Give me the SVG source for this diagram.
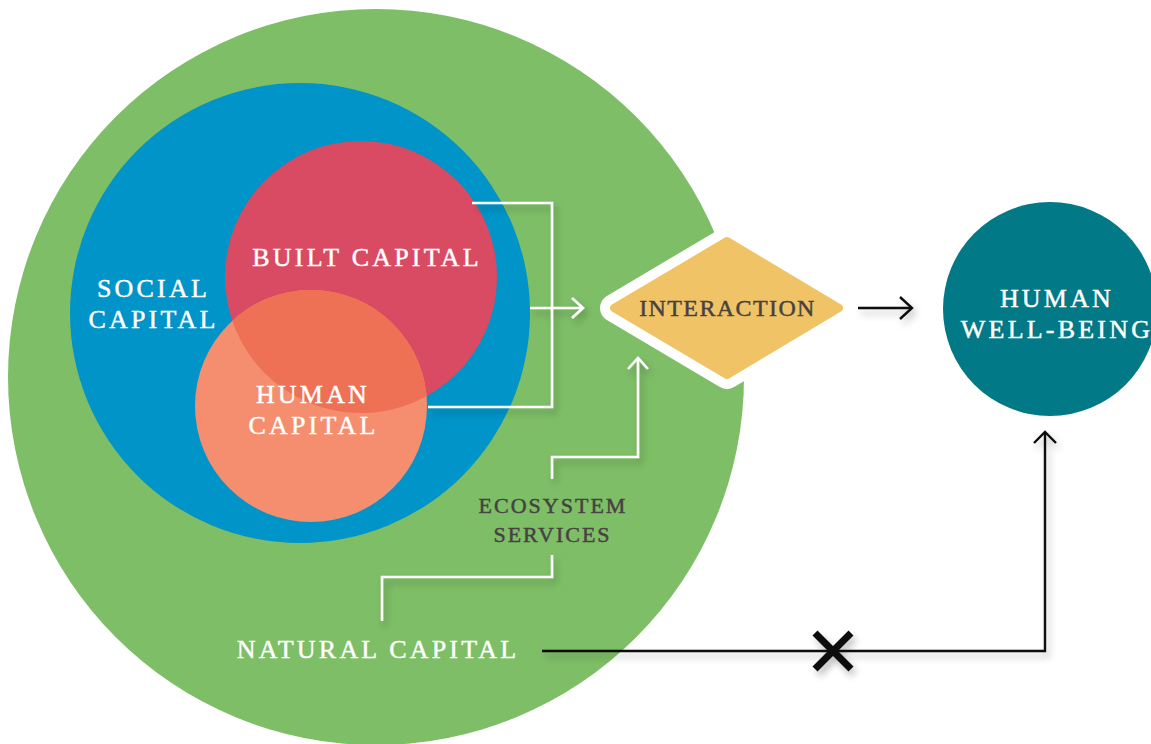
<svg xmlns="http://www.w3.org/2000/svg" width="1151" height="744" viewBox="0 0 1151 744">
<defs>
<filter id="sh" x="-20%" y="-20%" width="140%" height="140%">
<feDropShadow dx="3" dy="5" stdDeviation="3.5" flood-color="#000" flood-opacity="0.25"/>
</filter>
<clipPath id="clipBuilt"><circle cx="361" cy="277" r="136"/></clipPath>
</defs>
<style>
.lbl{font-family:"Liberation Serif","Times New Roman",serif;font-size:26px;fill:#fff;stroke:#fff;stroke-width:0.45;letter-spacing:3.2px;text-anchor:middle}
.dark{fill:#474142;stroke:#474142}
.wl{fill:none;stroke:#fff;stroke-width:2.6;stroke-linecap:butt;stroke-linejoin:miter}
.bl{fill:none;stroke:#111;stroke-width:2.4;stroke-linecap:butt;stroke-linejoin:miter}
</style>
<rect width="1151" height="744" fill="#fff"/>
<g id="natural-capital">
<circle cx="376" cy="377" r="368" fill="#7dbe66"/>
<text class="lbl" x="378" y="658">NATURAL CAPITAL</text>
</g>
<g id="social-capital">
<circle cx="300" cy="313" r="230" fill="#0094c8"/>
<text class="lbl" x="153.5" y="297">SOCIAL</text>
<text class="lbl" x="153.5" y="328">CAPITAL</text>
</g>
<g id="built-capital">
<circle cx="361" cy="277" r="136" fill="#d94b63"/>
<text class="lbl" x="367" y="266">BUILT CAPITAL</text>
</g>
<g id="human-capital">
<circle cx="311" cy="406" r="116" fill="#f48e6e"/>
<circle cx="311" cy="406" r="116" fill="#ee7055" clip-path="url(#clipBuilt)"/>
<text class="lbl" x="313" y="403">HUMAN</text>
<text class="lbl" x="313.5" y="434">CAPITAL</text>
</g>
<g id="interaction">
<polygon points="614,308 727,241 839,308 727,375" fill="#fff" stroke="#fff" stroke-width="28" stroke-linejoin="round"/>
<polygon points="614,308 727,241 839,308 727,375" fill="#f0c466" stroke="#f0c466" stroke-width="8" stroke-linejoin="round"/>
<text class="lbl dark" x="727.5" y="316" style="font-size:24px;letter-spacing:1.4px">INTERACTION</text>
</g>
<g id="ecosystem-services">
<text class="lbl dark" x="553" y="513" style="font-size:22px;letter-spacing:2px">ECOSYSTEM</text>
<text class="lbl dark" x="552.5" y="542" style="font-size:22px;letter-spacing:2px">SERVICES</text>
</g>
<g id="human-well-being">
<circle cx="1050" cy="309" r="107" fill="#017986"/>
<text class="lbl" x="1057" y="307">HUMAN</text>
<text class="lbl" x="1057" y="338">WELL-BEING</text>
</g>
<g id="connectors" filter="url(#sh)">
<polyline class="wl" points="472,203 552,203 552,407 428,407"/>
<line class="wl" x1="530" y1="308" x2="582" y2="308"/>
<polyline class="wl" points="572,298 583,308 572,318"/>
<polyline class="wl" points="552,479 552,457 638,457 638,359"/>
<polyline class="wl" points="628,369 638,358 648,369"/>
<polyline class="wl" points="552,555 552,577 382,577 382,621"/>
<line class="bl" x1="858" y1="308" x2="911" y2="308"/>
<polyline class="bl" points="900,297 912,308 900,319"/>
<polyline class="bl" points="542,651 1045,651 1045,433"/>
<polyline class="bl" points="1034,443 1045,432 1056,443"/>
<g stroke="#111" stroke-width="7" stroke-linecap="butt">
<line x1="815" y1="633" x2="851" y2="669"/>
<line x1="851" y1="633" x2="815" y2="669"/>
</g>
</g>
</svg>
